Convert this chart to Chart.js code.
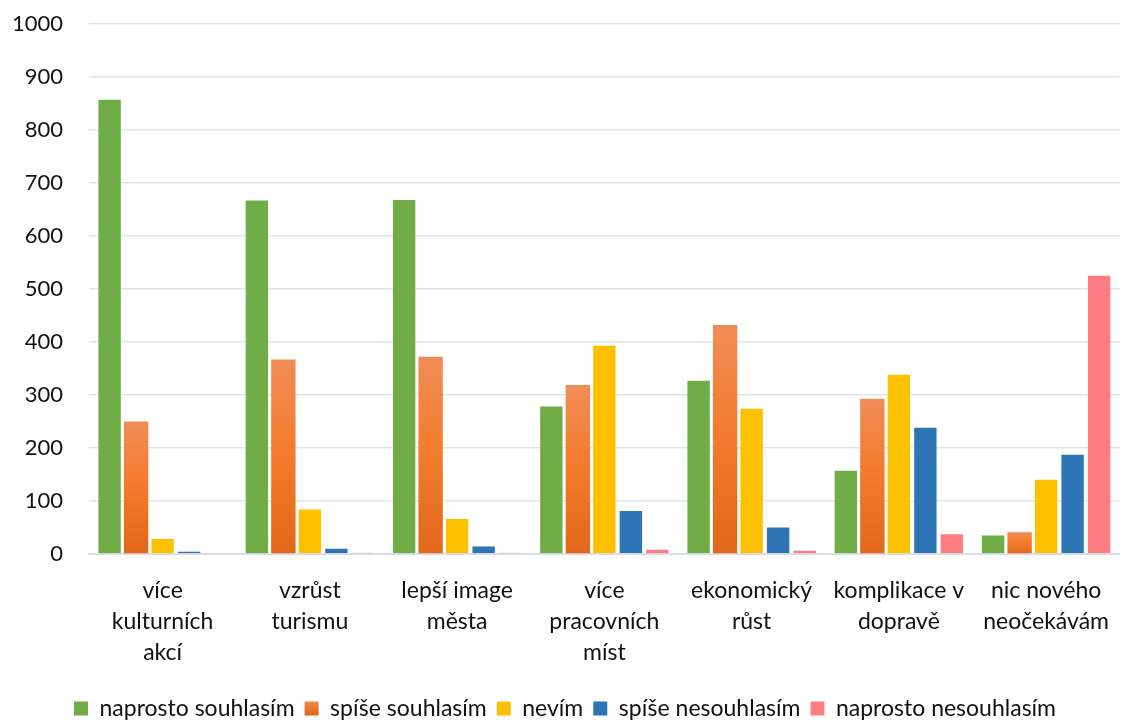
<!DOCTYPE html>
<html>
<head>
<meta charset="utf-8">
<script src="https://cdn.jsdelivr.net/npm/chart.js@4/dist/chart.umd.min.js"></script>
<style>
  html, body { margin: 0; padding: 0; background: #fff; }
  #wrap { width: 1130px; height: 722px; position: relative; }
</style>
</head>
<body>
<div id="wrap"><canvas id="c"></canvas></div>
<script>
// Categories (multi-line labels)
const categories = [
  ['více', 'kulturních', 'akcí'],
  ['vzrůst', 'turismu'],
  ['lepší image', 'města'],
  ['více', 'pracovních', 'míst'],
  ['ekonomický', 'růst'],
  ['komplikace v', 'dopravě'],
  ['nic nového', 'neočekávám']
];

// Series values
const naprostoSouhlasim   = [859, 669, 670, 280, 329, 159, 37];
const spiseSouhlasim      = [250, 367, 372, 319, 432, 293, 41];
const nevim               = [30, 86, 68, 395, 276, 340, 142];
const spiseNesouhlasim    = [6, 12, 16, 83, 52, 240, 189];
const naprostoNesouhlasim = [2, 3, 3, 10, 8, 39, 527];

const seriesNames = ['naprosto souhlasím', 'spíše souhlasím', 'nevím', 'spíše nesouhlasím', 'naprosto nesouhlasím'];

// Y axis ticks
const yTicks = [0, 100, 200, 300, 400, 500, 600, 700, 800, 900, 1000];

const FONT = 'Lato, "Open Sans", "Liberation Sans", sans-serif';

// Vertical gradient for the orange series, one per bar
function orangeGradient(context) {
  const chart = context.chart;
  const { ctx, chartArea, scales } = chart;
  if (!chartArea || context.type !== 'data') return '#F07A30';
  const top = scales.y.getPixelForValue(context.raw);
  const base = scales.y.getPixelForValue(0);
  const g = ctx.createLinearGradient(0, top, 0, Math.max(base, top + 1));
  g.addColorStop(0, '#F08D57');
  g.addColorStop(0.45, '#F47C2E');
  g.addColorStop(1, '#E06818');
  return g;
}

const colors = ['#70AD47', null, '#FFC000', '#2E75B6', '#FF7C80'];
const dataArrays = [naprostoSouhlasim, spiseSouhlasim, nevim, spiseNesouhlasim, naprostoNesouhlasim];

const datasets = dataArrays.map((arr, i) => ({
  label: seriesNames[i],
  data: arr,
  backgroundColor: i === 1 ? orangeGradient : colors[i],
  borderColor: i === 1 ? 'rgba(0,0,0,0)' : 'rgba(255,255,255,0.45)',
  borderWidth: i === 1 ? 0 : 1,
  borderSkipped: 'bottom',
  categoryPercentage: 0.9,
  barPercentage: 0.92
}));

new Chart(document.getElementById('c'), {
  type: 'bar',
  data: { labels: categories, datasets },
  options: {
    responsive: true,
    maintainAspectRatio: false,
    animation: false,
    layout: { padding: { top: 24, right: 0, left: 0, bottom: -8 } },
    plugins: {
      legend: {
        position: 'bottom',
        labels: {
          font: { family: FONT, size: 23 },
          color: '#111',
          boxWidth: 14,
          boxHeight: 14,
          padding: 10,
          generateLabels(chart) {
            const items = Chart.defaults.plugins.legend.labels.generateLabels(chart);
            items.forEach((it, i) => {
              it.lineWidth = 0;
              it.strokeStyle = 'rgba(0,0,0,0)';
              if (i === 1) {
                const y0 = chart.height - 22;
                const g = chart.ctx.createLinearGradient(0, y0, 0, y0 + 14);
                g.addColorStop(0, '#F08D57');
                g.addColorStop(1, '#E06818');
                it.fillStyle = g;
              }
            });
            return items;
          }
        }
      },
      tooltip: { enabled: false }
    },
    scales: {
      x: {
        grid: { display: false, drawTicks: false },
        border: { display: true, color: '#D9DEE5', width: 2 },
        ticks: {
          font: { family: FONT, size: 23, lineHeight: 1.35 },
          color: '#111',
          padding: 21,
          maxRotation: 0,
          autoSkip: false
        },
        afterFit(scale) { scale.height = 133; }
      },
      y: {
        min: 0,
        max: 1000,
        afterBuildTicks(scale) { scale.ticks = yTicks.map(v => ({ value: v })); },
        grid: { color: '#E1E5EB', lineWidth: 1.5, drawTicks: false },
        border: { display: false },
        ticks: {
          font: { family: FONT, size: 22 },
          color: '#111',
          padding: 26,
          callback: v => String(v)
        },
        afterFit(scale) {
          scale.width = 89;
          scale.paddingTop = 0;
          scale.paddingBottom = 0;
        }
      }
    }
  }
});
</script>
</body>
</html>
